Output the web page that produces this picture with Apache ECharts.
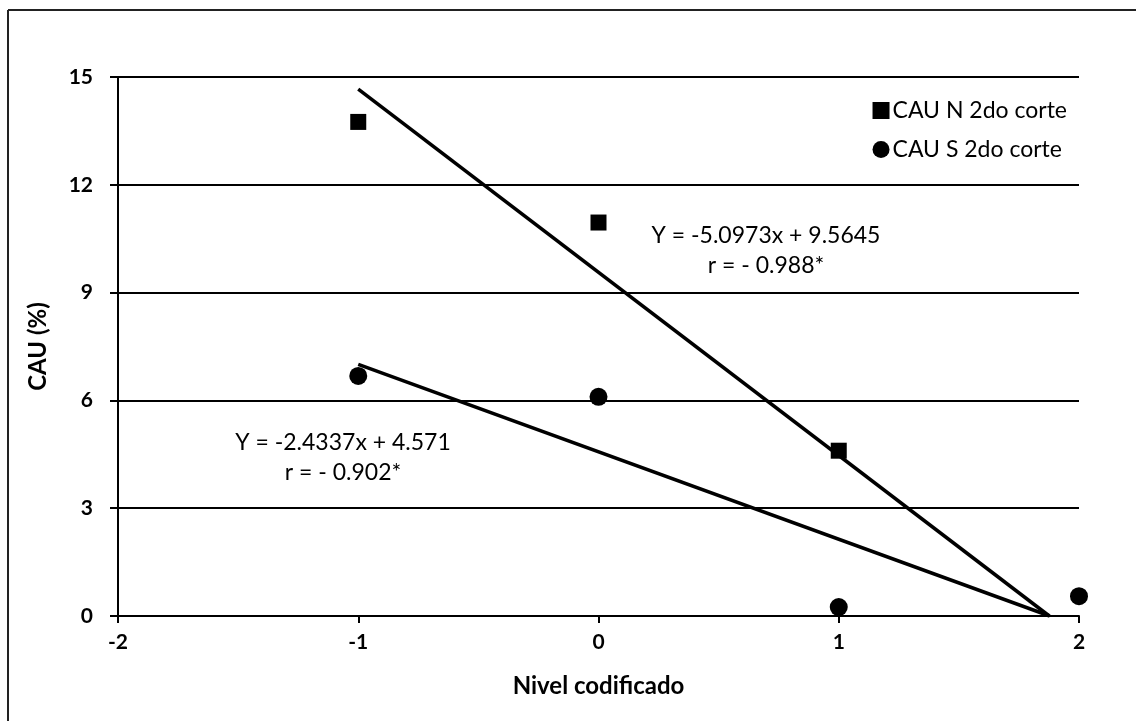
<!DOCTYPE html>
<html>
<head>
<meta charset="utf-8">
<script src="https://cdn.jsdelivr.net/npm/echarts@6/dist/echarts.min.js"></script>
<style>
  html, body { margin: 0; padding: 0; background: #fff; }
  #chart { width: 1136px; height: 721px; }
</style>
</head>
<body>
<div id="chart"></div>
<script>
// Coded level on the x axis
const levels = [-1, 0, 1, 2];
// CAU (%) for each cut
const cauN = [13.75, 10.95, 4.6, null];
const cauS = [6.68, 6.1, 0.25, 0.55];
// Fitted regressions: Y = slope * x + intercept
const fitN = { slope: -5.0973, intercept: 9.5645, r: '- 0.988*' };
const fitS = { slope: -2.4337, intercept: 4.571, r: '- 0.902*' };
const seriesNames = ['CAU N 2do corte', 'CAU S 2do corte'];

const FONT = 'Lato, "Open Sans", sans-serif';
const INK = '#000';

// trend line from x = -1 down to where the fit reaches zero
function trend(fit) {
  const x0 = -1;
  const x1 = -fit.intercept / fit.slope;
  return [[x0, fit.slope * x0 + fit.intercept], [x1, 0]];
}
function pairs(vals) {
  return levels.map((x, i) => [x, vals[i]]).filter(p => p[1] !== null);
}
function eqText(fit) {
  return 'Y = ' + fit.slope + 'x + ' + fit.intercept;
}

const chart = echarts.init(document.getElementById('chart'));
chart.setOption({
  animation: false,
  backgroundColor: '#fff',
  grid: { left: 118, right: 57, top: 77, bottom: 105, containLabel: false },
  legend: {
    data: [{ name: seriesNames[0], icon: 'rect' }, { name: seriesNames[1], icon: 'circle' }],
    orient: 'vertical',
    right: 64,
    top: 94,
    itemGap: 16,
    itemWidth: 17,
    itemHeight: 17,
    textStyle: { fontFamily: FONT, fontSize: 23, color: INK, padding: [0, 0, 0, -2] }
  },
  xAxis: {
    type: 'value',
    min: -2, max: 2, interval: 1,
    name: 'Nivel codificado',
    nameLocation: 'middle',
    nameGap: 58,
    nameTextStyle: { fontFamily: FONT, fontSize: 24, fontWeight: 'bold', color: INK },
    axisLine: { show: true, onZero: false, lineStyle: { color: INK, width: 2 } },
    axisTick: { show: true, inside: false, length: 7, lineStyle: { color: INK, width: 2 } },
    axisLabel: { fontFamily: FONT, fontSize: 21, fontWeight: 'bold', color: INK, margin: 16 },
    splitLine: { show: false }
  },
  yAxis: {
    type: 'value',
    min: 0, max: 15, interval: 3,
    name: 'CAU (%)',
    nameLocation: 'middle',
    nameGap: 68,
    nameTextStyle: { fontFamily: FONT, fontSize: 24, fontWeight: 'bold', color: INK },
    axisLine: { show: true, onZero: false, lineStyle: { color: INK, width: 2 } },
    axisTick: { show: true, inside: false, length: 8, lineStyle: { color: INK, width: 2 } },
    axisLabel: { fontFamily: FONT, fontSize: 21, fontWeight: 'bold', color: INK, margin: 25 },
    splitLine: { show: true, lineStyle: { color: INK, width: 2 } }
  },
  series: [
    {
      name: seriesNames[0], type: 'scatter', data: pairs(cauN),
      symbol: 'rect', symbolSize: 16, itemStyle: { color: '#000', opacity: 1 }, z: 5
    },
    {
      name: seriesNames[1], type: 'scatter', data: pairs(cauS),
      symbol: 'circle', symbolSize: 18, itemStyle: { color: '#000', opacity: 1 }, z: 5
    },
    {
      name: 'fitN', type: 'line', data: trend(fitN), symbol: 'none',
      lineStyle: { color: '#000', width: 3.5 }, z: 4
    },
    {
      name: 'fitS', type: 'line', data: trend(fitS), symbol: 'none',
      lineStyle: { color: '#000', width: 3.5 }, z: 4
    }
  ],
  graphic: [
    // outer frame edges
    { type: 'line', shape: { x1: 8, y1: 10, x2: 1136, y2: 10 }, style: { stroke: '#222', lineWidth: 2 } },
    { type: 'line', shape: { x1: 8, y1: 10, x2: 8, y2: 721 }, style: { stroke: '#222', lineWidth: 2 } },
    // regression equations
    { type: 'text', x: 766, y: 236, style: { text: eqText(fitN), fontFamily: FONT, fontSize: 23, fill: INK, align: 'center', verticalAlign: 'middle' } },
    { type: 'text', x: 766, y: 266, style: { text: 'r = ' + fitN.r, fontFamily: FONT, fontSize: 23, fill: INK, align: 'center', verticalAlign: 'middle' } },
    { type: 'text', x: 343, y: 443, style: { text: eqText(fitS), fontFamily: FONT, fontSize: 23, fill: INK, align: 'center', verticalAlign: 'middle' } },
    { type: 'text', x: 343, y: 473, style: { text: 'r = ' + fitS.r, fontFamily: FONT, fontSize: 23, fill: INK, align: 'center', verticalAlign: 'middle' } }
  ]
});
</script>
</body>
</html>
